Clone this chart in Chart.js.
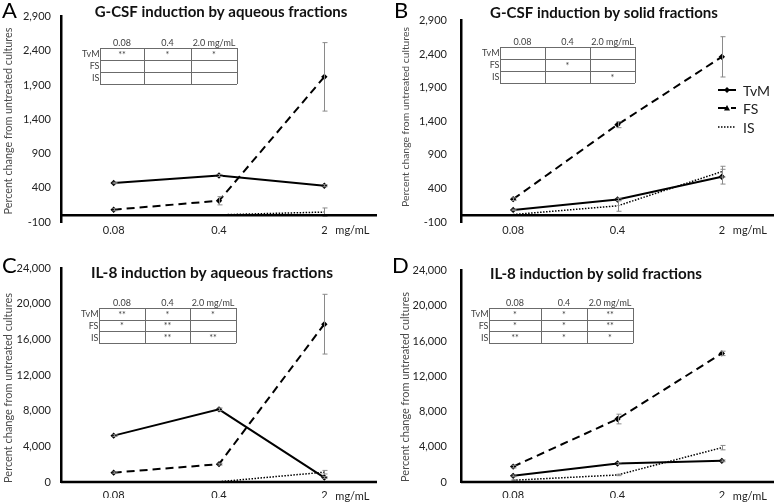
<!DOCTYPE html>
<html>
<head>
<meta charset="utf-8">
<script src="https://cdn.jsdelivr.net/npm/chart.js@4.4.1/dist/chart.umd.min.js"></script>
<style>
body { margin: 0; background: #fff; }
#wrap { position: relative; width: 778px; height: 504px; overflow: hidden; }
.panel { position: absolute; }
</style>
</head>
<body>
<div id="wrap">
  <div class="panel" style="left:0;top:0;width:389px;height:250px"><canvas id="chartA"></canvas></div>
  <div class="panel" style="left:389px;top:0;width:389px;height:250px"><canvas id="chartB"></canvas></div>
  <div class="panel" style="left:0;top:250px;width:389px;height:254px"><canvas id="chartC"></canvas></div>
  <div class="panel" style="left:389px;top:250px;width:389px;height:254px"><canvas id="chartD"></canvas></div>
</div>
<script>
// doses on the x axis
const doses = ['0.08', '0.4', '2'];
const colHeads = ['0.08', '0.4', '2.0 mg/mL'];
const rowHeads = ['TvM', 'FS', 'IS'];
const seriesNames = ['TvM', 'FS', 'IS'];

// A: G-CSF, aqueous fractions
const gcsfAqTvM = [470, 580, 430];
const gcsfAqFS = [80, 210, 2020];
const gcsfAqIS = [0, 5, 45];
const gcsfAqErrTvM = [10, 15, 15];
const gcsfAqErrFS = [15, 60, 500];
const gcsfAqErrIS = [0, 0, 60];
const starsA = [['**', '*', '*'], ['', '', ''], ['', '', '']];

// B: G-CSF, solid fractions
const gcsfSoTvM = [80, 235, 575];
const gcsfSoFS = [240, 1350, 2360];
const gcsfSoIS = [10, 140, 650];
const gcsfSoErrTvM = [10, 20, 110];
const gcsfSoErrFS = [20, 45, 300];
const gcsfSoErrIS = [0, 80, 80];
const starsB = [['', '', ''], ['', '*', ''], ['', '', '*']];

// C: IL-8, aqueous fractions
const il8AqTvM = [5200, 8150, 500];
const il8AqFS = [1050, 2000, 17700];
const il8AqIS = [0, 30, 1100];
const il8AqErrTvM = [100, 150, 100];
const il8AqErrFS = [80, 100, 3350];
const il8AqErrIS = [0, 0, 200];
const starsC = [['**', '*', '*'], ['*', '**', ''], ['', '**', '**']];

// D: IL-8, solid fractions
const il8SoTvM = [700, 2100, 2400];
const il8SoFS = [1750, 7150, 14600];
const il8SoIS = [200, 800, 3900];
const il8SoErrTvM = [100, 100, 100];
const il8SoErrFS = [150, 550, 250];
const il8SoErrIS = [50, 80, 250];
const starsD = [['*', '*', '**'], ['*', '*', '**'], ['**', '*', '*']];

const FONT = 'Lato, "Open Sans", sans-serif';

function fitFont(ctx, text, weight, target) {
  ctx.font = weight + ' 20px ' + FONT;
  const w = ctx.measureText(text).width;
  return 20 * target / w;
}

function drawTable(ctx, t, stars) {
  const c = t.cols, top = t.top, h = t.rowH;
  ctx.save();
  ctx.strokeStyle = '#6b6b6b';
  ctx.lineWidth = 1;
  ctx.beginPath();
  for (let r = 0; r <= 3; r++) {
    const yy = Math.round(top + r * h) + 0.5;
    ctx.moveTo(c[0], yy); ctx.lineTo(c[3], yy);
  }
  for (let k = 0; k < 4; k++) {
    const xx = Math.round(c[k]) + 0.5;
    ctx.moveTo(xx, top); ctx.lineTo(xx, top + 3 * h);
  }
  ctx.stroke();
  ctx.fillStyle = '#404040';
  ctx.font = '9px ' + FONT;
  ctx.textAlign = 'center';
  ctx.textBaseline = 'alphabetic';
  colHeads.forEach((s, k) => ctx.fillText(s, (c[k] + c[k + 1]) / 2, top - 2));
  ctx.textAlign = 'right';
  ctx.textBaseline = 'middle';
  rowHeads.forEach((s, r) => ctx.fillText(s, c[0] - 0.5, top + (r + 0.5) * h + 0.5));
  ctx.textAlign = 'center';
  stars.forEach((row, r) => row.forEach((s, k) => {
    if (s) ctx.fillText(s, (c[k] + c[k + 1]) / 2, top + (r + 0.5) * h + 1);
  }));
  ctx.restore();
}

function drawMarker(ctx, style, x, y, r) {
  ctx.beginPath();
  if (style === 'triangle') {
    ctx.moveTo(x, y - r); ctx.lineTo(x + r, y + r * 0.8); ctx.lineTo(x - r, y + r * 0.8);
  } else {
    ctx.moveTo(x, y - r); ctx.lineTo(x + r, y); ctx.lineTo(x, y + r); ctx.lineTo(x - r, y);
  }
  ctx.closePath();
  ctx.fill();
}

const decor = {
  id: 'decor',
  afterDatasetsDraw(chart) {
    const ctx = chart.ctx, y = chart.scales.y, area = chart.chartArea;
    ctx.save();
    ctx.strokeStyle = '#8a8a8a';
    ctx.lineWidth = 1;
    chart.data.datasets.forEach((ds, i) => {
      const meta = chart.getDatasetMeta(i);
      ds.data.forEach((v, j) => {
        const e = ds.errors[j];
        if (!e) return;
        const px = Math.round(meta.data[j].x) + 0.5;
        const t = y.getPixelForValue(v + e), b = y.getPixelForValue(v - e);
        ctx.beginPath();
        ctx.moveTo(px, t); ctx.lineTo(px, b);
        ctx.moveTo(px - 2, t); ctx.lineTo(px + 3, t);
        ctx.moveTo(px - 2, b); ctx.lineTo(px + 3, b);
        ctx.stroke();
      });
    });
    // horizontal axis line crosses at zero
    const y0 = y.getPixelForValue(0);
    ctx.strokeStyle = '#000';
    ctx.lineWidth = 2.5;
    ctx.beginPath();
    ctx.moveTo(area.left, y0); ctx.lineTo(area.right, y0);
    ctx.stroke();
    ctx.restore();
  },
  afterDraw(chart, args, o) {
    const ctx = chart.ctx, x = chart.scales.x;
    ctx.save();
    ctx.fillStyle = '#000';
    ctx.font = '22px ' + FONT;
    ctx.textAlign = 'left';
    ctx.textBaseline = 'top';
    ctx.fillText(o.letter, o.letterX, o.letterY);

    ctx.fillStyle = '#111';
    ctx.font = 'bold ' + fitFont(ctx, o.title, 'bold', o.titleW).toFixed(2) + 'px ' + FONT;
    ctx.textAlign = 'center';
    ctx.textBaseline = 'middle';
    ctx.fillText(o.title, o.titleX, o.titleY);

    // unit after the last dose label
    ctx.fillStyle = '#222';
    ctx.font = '11px ' + FONT;
    ctx.textAlign = 'left';
    ctx.fillText('mg/mL', x.getPixelForValue(2) + 11, o.unitY);

    drawTable(ctx, o.table, o.stars);

    if (o.legend) {
      const L = o.legend;
      chart.data.datasets.forEach((ds, i) => {
        const ly = L.ys[i];
        ctx.save();
        ctx.strokeStyle = '#000';
        ctx.lineWidth = ds.borderWidth;
        ctx.setLineDash(ds.borderDash || []);
        ctx.beginPath();
        ctx.moveTo(L.x0, ly); ctx.lineTo(L.x1, ly);
        ctx.stroke();
        ctx.restore();
        ctx.fillStyle = '#000';
        if (L.markers[i]) drawMarker(ctx, L.markers[i], (L.x0 + L.x1) / 2, ly, 3);
        ctx.fillStyle = '#222';
        ctx.font = '14px ' + FONT;
        ctx.textAlign = 'left';
        ctx.textBaseline = 'middle';
        ctx.fillText(seriesNames[i], L.tx, ly + 1);
      });
    }

    ctx.translate(o.yTitleX, o.yTitleY);
    ctx.rotate(-Math.PI / 2);
    ctx.fillStyle = '#4a4a4a';
    ctx.font = fitFont(ctx, 'Percent change from untreated cultures', '', o.yTitleW).toFixed(2) + 'px ' + FONT;
    ctx.textAlign = 'center';
    ctx.textBaseline = 'middle';
    ctx.fillText('Percent change from untreated cultures', 0, 0);
    ctx.restore();
  }
};

function makeChart(id, p) {
  const datasets = [
    { label: 'TvM', data: p.tvm, errors: p.errTvm, borderColor: '#000', backgroundColor: '#000',
      borderWidth: 2, pointStyle: 'rectRot', pointRadius: 3.2, pointBorderWidth: 0 },
    { label: 'FS', data: p.fs, errors: p.errFs, borderColor: '#000', backgroundColor: '#000',
      borderWidth: 2, borderDash: [8, 5], pointStyle: 'rectRot', pointRadius: 3.2, pointBorderWidth: 0 },
    { label: 'IS', data: p.is, errors: p.errIs, borderColor: '#000', backgroundColor: '#000',
      borderWidth: 1.5, borderDash: [1.5, 1.5], pointRadius: 0 }
  ];
  return new Chart(document.getElementById(id), {
    type: 'line',
    data: { labels: doses, datasets },
    plugins: [decor],
    options: {
      responsive: true,
      maintainAspectRatio: false,
      animation: false,
      events: [],
      layout: { padding: { left: 0, right: p.padRight, top: p.padTop, bottom: p.padBottom } },
      scales: {
        x: {
          offset: true,
          grid: { display: false, drawTicks: false, offset: true },
          border: { display: false },
          ticks: { color: '#222', font: { family: FONT, size: 11 }, padding: p.xPad, maxRotation: 0 },
          afterFit: s => { s.height = 16; }
        },
        y: {
          min: p.min, max: p.max,
          grid: { display: false, drawTicks: false },
          border: { display: true, color: '#000', width: 2.5 },
          ticks: { stepSize: p.step, color: '#222', font: { family: FONT, size: 11 }, padding: p.tickPad,
                   callback: v => Number(v).toLocaleString('en-US') },
          afterFit: s => { s.width = p.axisX; }
        }
      },
      plugins: {
        legend: { display: false },
        tooltip: { enabled: false },
        decor: p.decor
      }
    }
  });
}

makeChart('chartA', {
  tvm: gcsfAqTvM, fs: gcsfAqFS, is: gcsfAqIS,
  errTvm: gcsfAqErrTvM, errFs: gcsfAqErrFS, errIs: gcsfAqErrIS,
  min: -100, max: 2900, step: 500, axisX: 61, tickPad: 10, xPad: 2,
  padTop: 8, padBottom: 12, padRight: 12,
  decor: { letter: 'A', letterX: 2, letterY: 0, title: 'G-CSF induction by aqueous fractions',
    titleX: 221, titleY: 12, titleW: 253, yTitleX: 8.5, yTitleY: 121, yTitleW: 187, unitY: 230.5,
    table: { cols: [100, 144, 191, 237], top: 48, rowH: 12 }, stars: starsA }
});

makeChart('chartB', {
  tvm: gcsfSoTvM, fs: gcsfSoFS, is: gcsfSoIS,
  errTvm: gcsfSoErrTvM, errFs: gcsfSoErrFS, errIs: gcsfSoErrIS,
  min: -100, max: 2900, step: 500, axisX: 72, tickPad: 14, xPad: 2,
  padTop: 8, padBottom: 12, padRight: 3,
  decor: { letter: 'B', letterX: 5, letterY: 0, title: 'G-CSF induction by solid fractions',
    titleX: 215, titleY: 13, titleW: 228, yTitleX: 16.5, yTitleY: 117, yTitleW: 180, unitY: 230.5,
    table: { cols: [111, 156, 201, 246], top: 47, rowH: 12 }, stars: starsB,
    legend: { x0: 329, x1: 347, tx: 354, ys: [90, 108, 127], markers: ['diamond', 'triangle', null] } }
});

makeChart('chartC', {
  tvm: il8AqTvM, fs: il8AqFS, is: il8AqIS,
  errTvm: il8AqErrTvM, errFs: il8AqErrFS, errIs: il8AqErrIS,
  min: 0, max: 24000, step: 4000, axisX: 61, tickPad: 10, xPad: 7,
  padTop: 18, padBottom: 6, padRight: 12,
  decor: { letter: 'C', letterX: 2, letterY: 5, title: 'IL-8 induction by aqueous fractions',
    titleX: 212, titleY: 23, titleW: 242, yTitleX: 8.5, yTitleY: 138, yTitleW: 190, unitY: 246.5,
    table: { cols: [99, 145, 190, 236], top: 58, rowH: 11.7 }, stars: starsC }
});

makeChart('chartD', {
  tvm: il8SoTvM, fs: il8SoFS, is: il8SoIS,
  errTvm: il8SoErrTvM, errFs: il8SoErrFS, errIs: il8SoErrIS,
  min: 0, max: 24000, step: 4000, axisX: 72, tickPad: 14, xPad: 7,
  padTop: 18, padBottom: 6, padRight: 4,
  decor: { letter: 'D', letterX: 3, letterY: 5, title: 'IL-8 induction by solid fractions',
    titleX: 207, titleY: 24, titleW: 212, yTitleX: 16.5, yTitleY: 137, yTitleW: 190, unitY: 246.5,
    table: { cols: [100, 152, 198, 244], top: 58, rowH: 11.7 }, stars: starsD }
});
</script>
</body>
</html>
